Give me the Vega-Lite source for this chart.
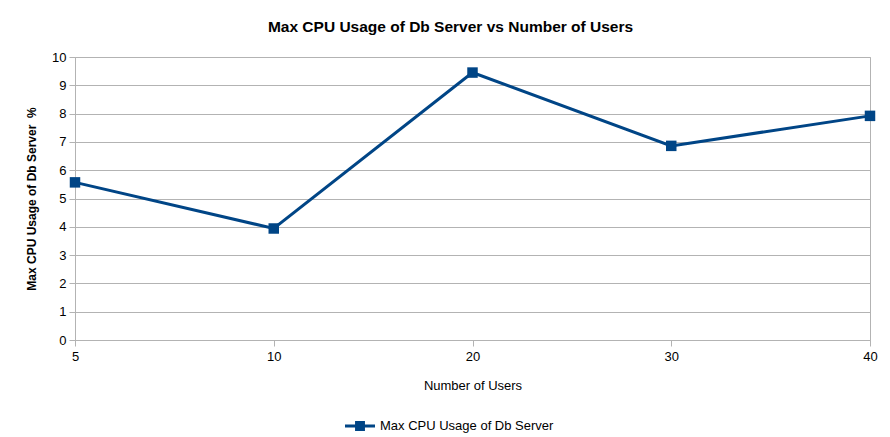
{
  "$schema": "https://vega.github.io/schema/vega-lite/v6.json",
  "width": 795,
  "height": 283,
  "autosize": {"type": "none"},
  "padding": {"left": 75, "top": 57, "right": 20, "bottom": 97},
  "background": "white",
  "title": {
    "text": "Max CPU Usage of Db Server vs Number of Users",
    "font": "Liberation Sans",
    "fontSize": 15.5,
    "fontWeight": "bold",
    "color": "#000000",
    "anchor": "middle",
    "dx": -22,
    "offset": 16
  },
  "data": {
    "values": [
      {"users": "5", "cpu": 5.57, "series": "Max CPU Usage of Db Server"},
      {"users": "10", "cpu": 3.94, "series": "Max CPU Usage of Db Server"},
      {"users": "20", "cpu": 9.45, "series": "Max CPU Usage of Db Server"},
      {"users": "30", "cpu": 6.86, "series": "Max CPU Usage of Db Server"},
      {"users": "40", "cpu": 7.92, "series": "Max CPU Usage of Db Server"}
    ]
  },
  "config": {
    "view": {"stroke": "#b3b3b3", "strokeWidth": 1},
    "axis": {
      "labelFont": "Liberation Sans",
      "titleFont": "Liberation Sans",
      "labelColor": "#000000",
      "titleColor": "#000000",
      "labelFontSize": 13,
      "domainColor": "#b3b3b3",
      "tickColor": "#b3b3b3",
      "gridColor": "#b3b3b3"
    }
  },
  "mark": {"type": "line", "color": "#004586", "strokeWidth": 3, "point": {"shape": "square", "size": 110, "filled": true, "color": "#004586", "opacity": 1}},
  "encoding": {
    "x": {
      "field": "users",
      "type": "ordinal",
      "sort": ["5", "10", "20", "30", "40"],
      "scale": {"type": "point", "padding": 0},
      "axis": {"title": "Number of Users", "titleFontSize": 13, "labelAngle": 0, "grid": false, "tickSize": 6, "labelPadding": 4, "titlePadding": 16, "titleFontWeight": "normal"}
    },
    "y": {
      "field": "cpu",
      "type": "quantitative",
      "scale": {"domain": [0, 10], "nice": false},
      "axis": {"title": "Max CPU Usage of Db Server\u00a0\u00a0%", "titleFontSize": 12, "values": [0,1,2,3,4,5,6,7,8,9,10], "tickSize": 6, "labelPadding": 3, "titlePadding": 13, "titleFontWeight": "bold"}
    },
    "color": {
      "field": "series",
      "type": "nominal",
      "scale": {"range": ["#004586"]},
      "legend": {
        "title": null,
        "orient": "none",
        "legendX": 270,
        "legendY": 354,
        "symbolType": "M-1,-0.1H-0.33V-0.33H0.33V-0.1H1V0.1H0.33V0.33H-0.33V0.1H-1Z",
        "symbolSize": 900,
        "symbolFillColor": "#004586",
        "symbolStrokeWidth": 0,
        "labelOffset": 5,
        "labelLimit": 400,
        "labelFont": "Liberation Sans",
        "labelFontSize": 13,
        "labelColor": "#000000"
      }
    }
  }
}
